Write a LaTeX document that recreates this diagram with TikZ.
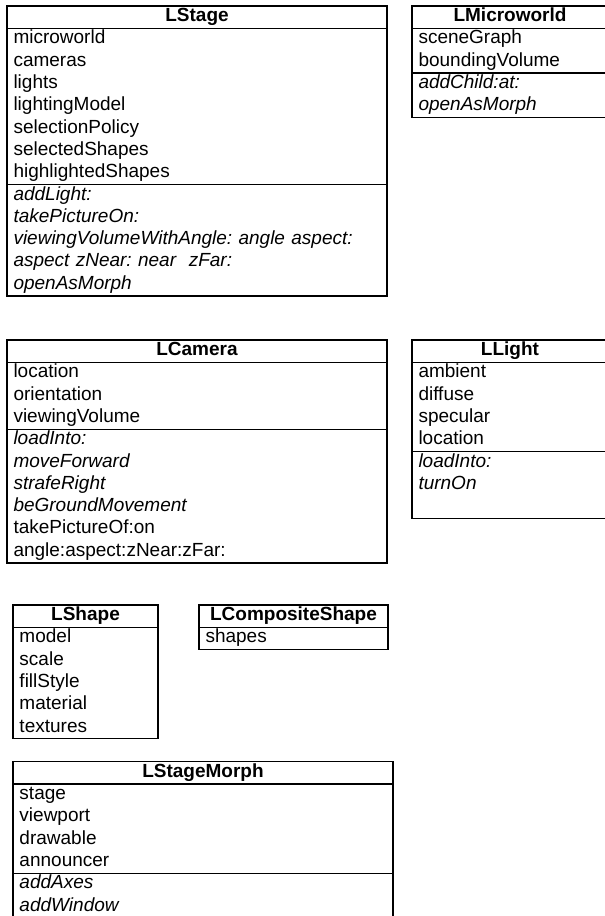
\documentclass[tikz,border=0pt]{standalone}
\usepackage{fontspec}
\setmainfont{Liberation Sans}
\usepackage{tikz}
\usetikzlibrary{positioning}
\tikzset{classname/.style={draw, line width=1.2pt, minimum width=#1, minimum height=22.3pt, inner sep=0pt, outer sep=0pt, anchor=north west, font=\fontsize{19}{22.3}\selectfont\bfseries, execute at begin node=\strut}}
\tikzset{classbody/.style={draw, line width=1.2pt, text width=#1, align=left, inner xsep=6.5pt, inner ysep=0pt, outer sep=0pt, font=\fontsize{19}{22.3}\selectfont\frenchspacing, execute at begin node=\strut, execute at end node=\strut}}
\tikzset{classops/.style={classbody=#1, font=\fontsize{19}{22.3}\selectfont\frenchspacing\itshape}}

\begin{document}
\begin{tikzpicture}[x=1pt, y=-1pt]
    \useasboundingbox (0,0) rectangle (605,916);
    \clip (0,0) rectangle (605,916);

    \node[classname=380pt] at (7,6) (stage){LStage};
    \node[classbody=367pt, below=0pt of stage] (stageattr){microworld\\cameras\\lights\\lightingModel\\selectionPolicy\\selectedShapes\\highlightedShapes};
    \node[classops=367pt, below=0pt of stageattr] (stageops){addLight:\\takePictureOn:\\viewingVolumeWithAngle: angle aspect:\\aspect zNear: near\ \ zFar:\\openAsMorph};

    \node[classname=196pt] at ([xshift = 25pt]stage.north east) (world){LMicroworld};
    \node[classbody=183pt, below=0pt of world] (worldattr){sceneGraph\\boundingVolume};
    \node[classops=183pt, below=0pt of worldattr] (worldops){addChild:at:\\openAsMorph};

    \node[classname=380pt] at ([yshift = -44pt]stageops.south west) (camera){LCamera};
    \node[classbody=367pt, below=0pt of camera] (cameraattr){location\\orientation\\viewingVolume};
    \node[classbody=367pt, below=0pt of cameraattr] (cameraops){\textit{loadInto:}\\\textit{moveForward}\\\textit{strafeRight}\\\textit{beGroundMovement}\\takePictureOf:on\\angle:aspect:zNear:zFar:};

    \node[classname=196pt] at ([xshift = 25pt]camera.north east) (light){LLight};
    \node[classbody=183pt, below=0pt of light] (lightattr){ambient\\diffuse\\specular\\location};
    \node[classops=183pt, below=0pt of lightattr] (lightops){loadInto:\\turnOn\\\mbox{}};

    \node[classname=145pt] at ([xshift = 6pt, yshift = -42pt]cameraops.south west) (shape){LShape};
    \node[classbody=132pt, below=0pt of shape] (shapeattr){model\\scale\\fillStyle\\material\\textures};

    \node[classname=189pt] at ([xshift = 41pt]shape.north east) (composite){LCompositeShape};
    \node[classbody=176pt, below=0pt of composite] (compositeattr){shapes};

    \node[classname=380pt] at ([yshift = -23pt]shapeattr.south west) (morph){LStageMorph};
    \node[classbody=367pt, below=0pt of morph] (morphattr){stage\\viewport\\drawable\\announcer};
    \node[classops=367pt, below=0pt of morphattr] (morphops){addAxes\\addWindow\\\mbox{}};
\end{tikzpicture}
\end{document}
